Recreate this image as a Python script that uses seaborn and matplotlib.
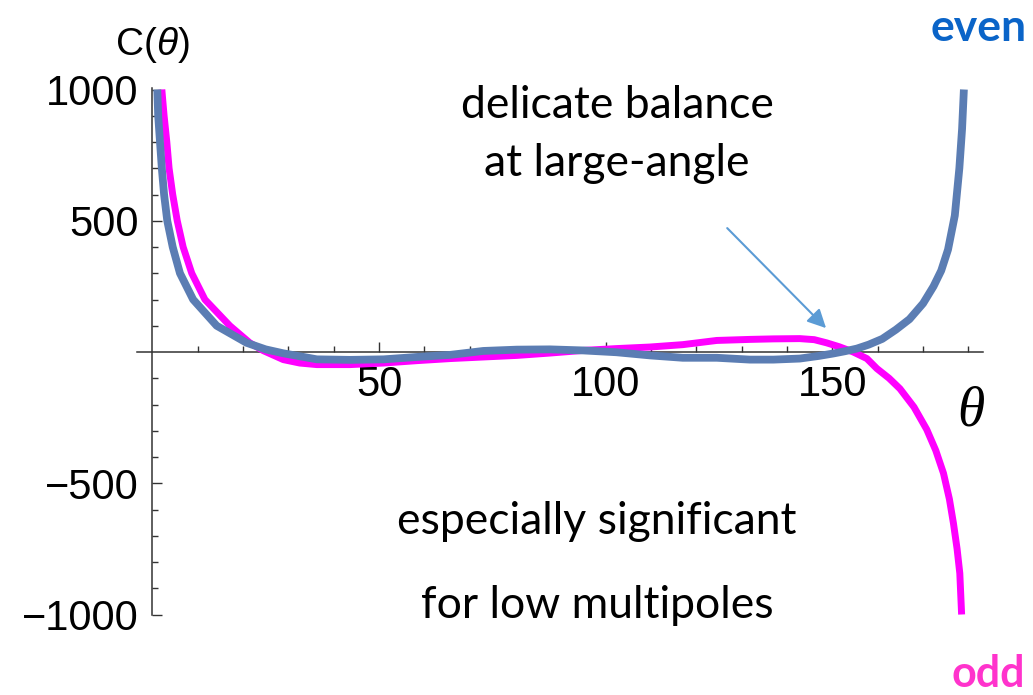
import numpy as np
import pandas as pd
import matplotlib
matplotlib.use("Agg")
import matplotlib.pyplot as plt
import seaborn as sns

# ---- data ----
even_theta = [1.1, 1.3, 1.7, 2.1, 2.6, 3.3, 4.5, 6.1, 9.0, 14.2, 20.8, 25.0, 28.9,
              36.3, 43.6, 51.0, 58.3, 65.7, 73.0, 80.4, 87.7, 95.0, 102.4, 109.8,
              117.0, 124.5, 131.8, 137.0, 142.8, 147.0, 150.1, 152.8, 155.4, 158.0,
              161.0, 164.0, 167.0, 170.0, 172.3, 174.0, 175.5, 177.0, 178.0, 178.6,
              179.0]
even_vals = [1000, 900, 800, 700, 600, 500, 400, 300, 200, 100, 35, 10, -5,
             -28, -30, -28, -19, -11, 4, 9, 10, 6, -1, -13,
             -22, -22, -29, -29, -25, -15, -6, 3, 13, 28,
             50, 85, 125, 185, 250, 310, 390, 520, 700, 850,
             1000]

odd_theta = [2.1, 2.6, 3.2, 3.7, 4.5, 5.5, 6.8, 8.7, 11.6, 17.1, 21.5, 24.5, 28.9,
             32.5, 36.3, 43.6, 51.0, 58.3, 65.7, 73.0, 80.4, 87.7, 95.0, 102.4,
             109.8, 117.0, 124.5, 131.8, 137.0, 142.8, 146.0, 148.7, 151.5, 154.6,
             157.6, 159.8, 162.5, 164.9, 168.0, 170.8, 172.8, 174.5, 175.8, 176.7,
             177.5, 178.1, 178.5]
odd_vals = [1000, 900, 800, 700, 600, 500, 400, 300, 200, 100, 35, 5, -29,
            -42, -48, -48, -42, -33, -25, -19, -13, -4, 6, 13,
            19, 28, 44, 48, 50, 51, 47, 35, 20, 0,
            -25, -63, -100, -140, -210, -295, -375, -462, -560, -653,
            -750, -843, -1000]

x_major = [50, 100, 150]
x_minor = [10, 20, 30, 40, 60, 70, 80, 90, 110, 120, 130, 140, 160, 170, 180]
y_major = [-1000, -500, 500, 1000]
y_minor = [-900, -800, -700, -600, -400, -300, -200, -100,
           100, 200, 300, 400, 600, 700, 800, 900]

df = pd.concat([
    pd.DataFrame({"theta": odd_theta, "C": odd_vals, "parity": "odd"}),
    pd.DataFrame({"theta": even_theta, "C": even_vals, "parity": "even"}),
])

sns.set_theme(style="white")
plt.rcParams["font.family"] = ["Liberation Sans", "DejaVu Sans"]
plt.rcParams["mathtext.fontset"] = "custom"
plt.rcParams["mathtext.it"] = "Liberation Sans:italic"
plt.rcParams["mathtext.rm"] = "Liberation Sans"
plt.rcParams["text.color"] = "black"

W, H = 1033, 695
fig = plt.figure(figsize=(W / 100, H / 100), dpi=100)
ax = fig.add_axes([0, 0, 1, 1])

# pixel mapping: px = 152.3 + 4.534*x ; py = 352 - 0.2625*y
x0, sx = 152.3, 4.534
y0, sy = 352.0, 0.2625
ax.set_xlim(-x0 / sx, (W - x0) / sx)
ax.set_ylim((y0 - H) / sy, y0 / sy)

sns.lineplot(data=df, x="theta", y="C", hue="parity",
             palette={"odd": "#ff00ff", "even": "#5b7db3"},
             hue_order=["odd", "even"], estimator=None, sort=True,
             linewidth=5, legend=False, ax=ax)
widths = {"odd": 5.0, "even": 5.6}
for ln, key in zip(ax.get_lines(), ["odd", "even"]):
    ln.set_solid_capstyle("butt")
    ln.set_solid_joinstyle("round")
    ln.set_linewidth(widths[key])

ax.set_xlabel("")
ax.set_ylabel("")
ax.patch.set_alpha(0)
for s in ["top", "right"]:
    ax.spines[s].set_visible(False)
axis_col = "#333333"
ax.spines["left"].set_position(("data", 0))
ax.spines["bottom"].set_position(("data", 0))
ax.spines["left"].set_bounds(-1000, 1005)
ax.spines["bottom"].set_bounds(-3.4, 183.2)
for s in ["left", "bottom"]:
    ax.spines[s].set_color(axis_col)
    ax.spines[s].set_linewidth(1.1)
    ax.spines[s].set_zorder(1)

ax.set_xticks(x_major)
ax.set_xticks(x_minor, minor=True)
ax.set_yticks(y_major)
ax.set_yticks(y_minor, minor=True)
ax.set_xticklabels([str(v) for v in x_major])
ax.set_yticklabels([f"{v}".replace("-", "\u2212") for v in y_major])
ax.tick_params(axis="both", which="both", direction="in", color=axis_col,
               width=1.0, labelsize=30, labelcolor="black")
ax.tick_params(axis="x", which="major", length=7, pad=9)
ax.tick_params(axis="x", which="minor", length=4)
ax.tick_params(axis="y", which="major", length=7, pad=10)
ax.tick_params(axis="y", which="minor", length=4.5)
ax.tick_params(bottom=True, left=True, which="both")

def fx(px):
    return px / W

def fy(py):
    return 1 - py / H

fig.text(fx(152), fy(45), r"C($\theta$)", fontsize=28, ha="center", va="center",
         color="black")
fig.text(fx(971), fy(412), "\u03b8", fontsize=40, ha="center", va="center",
         family=["Liberation Serif", "DejaVu Serif"], style="italic", color="black")

ann_font = ["Lato", "DejaVu Sans"]
for txt, px, py in [("delicate balance", 617, 105), ("at large-angle", 617, 163),
                    ("especially significant", 597, 522),
                    ("for low multipoles", 597, 605)]:
    fig.text(fx(px), fy(py), txt, fontsize=32, ha="center", va="center",
             family=ann_font, color="black")
fig.text(fx(979), fy(28), "even", fontsize=32, ha="center", va="center",
         family=ann_font, weight="bold", color="#0a64c8")
fig.text(fx(988), fy(687), "odd", fontsize=31, ha="center", va="baseline",
         family=ann_font, weight="bold", color="#ff33cc")

# arrow (data coords derived from the picture)
ax.annotate("", xy=(148.6, 91), xytext=(126.8, 472),
            arrowprops=dict(arrowstyle="-|>", color="#5b9bd5", lw=1.5,
                            mutation_scale=28, shrinkA=0, shrinkB=0))

fig.savefig("out.png", dpi=100)
